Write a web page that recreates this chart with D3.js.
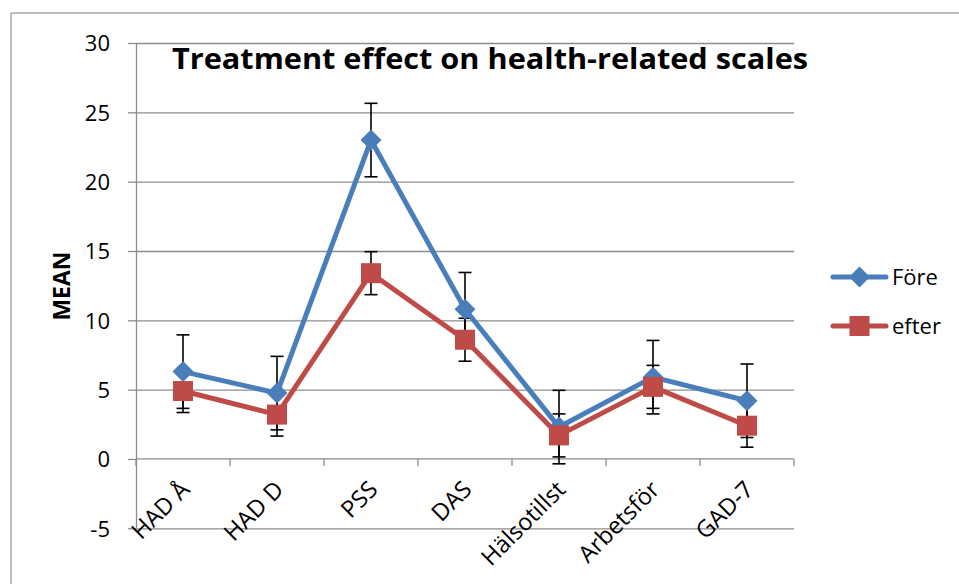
<!DOCTYPE html>
<html><head><meta charset="utf-8">
<script src="https://cdn.jsdelivr.net/npm/d3@7"></script>
<style>
html,body{margin:0;padding:0;background:#fff;}
svg{display:block;}
text{font-family:"Open Sans",sans-serif;fill:#000;}
</style></head>
<body>
<svg id="chart" width="959" height="584"></svg>
<script>
const categories = ["HAD Å","HAD D","PSS","DAS","Hälsotillst","Arbetsför","GAD-7"];
const foreValues  = [6.3, 4.75, 23.0, 10.8, 2.3, 5.9, 4.2];
const efterValues = [4.9, 3.2, 13.4, 8.6, 1.7, 5.2, 2.4];
const foreErr  = [2.65, 2.65, 2.65, 2.65, 2.65, 2.65, 2.65];
const efterErr = [1.55, 1.55, 1.55, 1.55, 1.55, 1.55, 1.55];
const yTicks = [-5, 0, 5, 10, 15, 20, 25, 30];
const seriesNames = ["Före", "efter"];
const titleText = "Treatment effect on health-related scales";
const yTitle = "MEAN";

const colors = {"Före":"#4a7ebb", "efter":"#be4b48"};
const series = [
  {name: seriesNames[0], values: foreValues, err: foreErr, shape: "diamond"},
  {name: seriesNames[1], values: efterValues, err: efterErr, shape: "square"}
];

const svg = d3.select("#chart");
const L = 136, R = 794, T = 43, B = 528.3;
const x = d3.scaleBand().domain(categories).range([L, R]).paddingInner(0).paddingOuter(0);
const y = d3.scaleLinear().domain([-5, 30]).range([B, T]);
const cx = c => x(c) + x.bandwidth() / 2;
const gridColor = "#8c8c8c";

// outer frame
svg.append("line").attr("x1", 11).attr("x2", 959).attr("y1", 13).attr("y2", 13).attr("stroke", "#a6a6a6").attr("stroke-width", 1.5);
svg.append("line").attr("x1", 11).attr("x2", 11).attr("y1", 13).attr("y2", 584).attr("stroke", "#a6a6a6").attr("stroke-width", 1.5);

// gridlines
const grid = svg.append("g").attr("transform", `translate(${L},0)`)
  .call(d3.axisLeft(y).tickValues(yTicks.filter(v => v !== 0)).tickSize(-(R - L)).tickFormat(""));
grid.select(".domain").remove();
grid.selectAll("line").attr("stroke", gridColor).attr("stroke-width", 1.3);

// y axis
const yAxis = svg.append("g").attr("transform", `translate(${L},0)`)
  .call(d3.axisLeft(y).tickValues(yTicks).tickSize(8).tickPadding(18).tickSizeOuter(0).tickFormat(d => String(d)));
yAxis.select(".domain").attr("stroke", gridColor).attr("stroke-width", 1.3);
yAxis.selectAll(".tick line").attr("stroke", gridColor).attr("stroke-width", 1.3);
yAxis.selectAll("text").style("font-size", "22px").style("font-family", "'Open Sans',sans-serif").attr("fill", "#000").attr("dy", "0.35em");

// x axis at y=0
const y0 = y(0);
svg.append("line").attr("x1", L).attr("x2", R).attr("y1", y0).attr("y2", y0).attr("stroke", gridColor).attr("stroke-width", 1.3);
const bounds = categories.map(c => x(c)).concat([R]);
svg.append("g").selectAll("line").data(bounds).join("line")
  .attr("x1", d => d).attr("x2", d => d).attr("y1", y0).attr("y2", y0 + 7)
  .attr("stroke", gridColor).attr("stroke-width", 1.3);
svg.append("g").selectAll("text").data(categories).join("text")
  .attr("transform", d => `translate(${cx(d) + 8},${y0 + 32}) rotate(-45)`)
  .attr("text-anchor", "end")
  .style("font-size", "23.5px")
  .text(d => d);

// error bars
series.forEach(s => {
  const g = svg.append("g");
  categories.forEach((c, i) => {
    const v = s.values[i], e = s.err[i];
    const px = cx(c);
    g.append("line").attr("x1", px).attr("x2", px).attr("y1", y(v - e)).attr("y2", y(v + e)).attr("stroke", "#000").attr("stroke-width", 1.6);
    [v - e, v + e].forEach(t => {
      g.append("line").attr("x1", px - 6.5).attr("x2", px + 6.5).attr("y1", y(t)).attr("y2", y(t)).attr("stroke", "#000").attr("stroke-width", 1.6);
    });
  });
});

// lines
const line = d3.line().x((d, i) => cx(categories[i])).y(d => y(d));
series.forEach(s => {
  svg.append("path").datum(s.values).attr("d", line)
    .attr("fill", "none").attr("stroke", colors[s.name]).attr("stroke-width", 5).attr("stroke-linejoin", "round");
});

// markers
function marker(g, shape, px, py, color) {
  if (shape === "diamond") {
    const r = 10.5;
    g.append("path").attr("d", `M${px},${py - r}L${px + r},${py}L${px},${py + r}L${px - r},${py}Z`).attr("fill", color);
  } else {
    const h = 10;
    g.append("rect").attr("x", px - h).attr("y", py - h).attr("width", 2 * h).attr("height", 2 * h).attr("fill", color);
  }
}
series.forEach(s => {
  const g = svg.append("g");
  categories.forEach((c, i) => marker(g, s.shape, cx(c), y(s.values[i]), colors[s.name]));
});

// title
svg.append("text").attr("x", 490).attr("y", 69).attr("text-anchor", "middle")
  .style("font-size", "28px").style("font-weight", "700")
  .attr("textLength", 636).attr("lengthAdjust", "spacingAndGlyphs")
  .text(titleText);

// y title
svg.append("text").attr("transform", "translate(70,286) rotate(-90)").attr("text-anchor", "middle")
  .style("font-size", "23px").style("font-weight", "700").text(yTitle);

// legend
const legY = [277, 326];
series.forEach((s, i) => {
  const g = svg.append("g");
  g.append("line").attr("x1", 833).attr("x2", 886).attr("y1", legY[i]).attr("y2", legY[i])
    .attr("stroke", colors[s.name]).attr("stroke-width", 5).attr("stroke-linecap", "round");
  marker(g, s.shape, 859.5, legY[i], colors[s.name]);
  g.append("text").attr("x", 892).attr("y", legY[i] + 8).style("font-size", "22px").text(s.name);
});
</script>
</body></html>
